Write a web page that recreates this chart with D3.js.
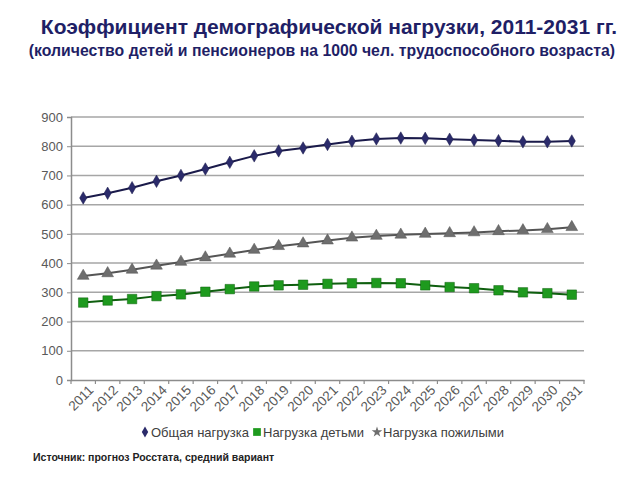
<!DOCTYPE html>
<html><head><meta charset="utf-8">
<script src="https://cdn.jsdelivr.net/npm/d3@7"></script>
<style>body{margin:0;background:#fff}svg{display:block}</style>
</head><body>
<svg id="c" width="640" height="480"></svg>
<script>
const years = ["2011","2012","2013","2014","2015","2016","2017","2018","2019","2020","2021","2022","2023","2024","2025","2026","2027","2028","2029","2030","2031"];
const total   = [623,639,658,680,700,722,745,767,784,794,806,817,825,828,827,824,821,819,815,815,818];
const children= [265,272,277,287,293,302,311,320,324,326,329,331,332,331,324,318,314,307,300,297,292];
const elderly = [356,365,377,391,404,419,432,445,458,467,477,487,493,497,500,502,505,509,512,516,523];
const yTicks = [0,100,200,300,400,500,600,700,800,900];
const seriesNames = ["Общая нагрузка","Нагрузка детьми","Нагрузка пожилыми"];
const titleText = "Коэффициент демографической нагрузки, 2011-2031 гг.";
const subtitleText = "(количество детей и пенсионеров на 1000 чел. трудоспособного возраста)";
const sourceText = "Источник: прогноз Росстата, средний вариант";

const svg = d3.select("#c");
const font = "Arial, 'Liberation Sans', sans-serif";
const L = 71, R = 584, T = 117, B = 380;
const x = d3.scaleBand().domain(years).range([L, R]);
const y = d3.scaleLinear().domain([0, 900]).range([B, T]);

svg.append("text").attr("x", 329).attr("y", 34).attr("text-anchor","middle")
  .attr("font-family", font).attr("font-weight","bold").attr("font-size", 21)
  .attr("fill","#1f1f66").text(titleText);
svg.append("text").attr("x", 322).attr("y", 56).attr("text-anchor","middle")
  .attr("font-family", font).attr("font-weight","bold").attr("font-size", 15.8)
  .attr("fill","#1f1f66").text(subtitleText);

// grid
svg.append("g").selectAll("line").data(yTicks.filter(d=>d>0)).join("line")
  .attr("x1", L).attr("x2", R).attr("y1", d=>y(d)).attr("y2", d=>y(d))
  .attr("stroke","#a6a6a6").attr("stroke-width",1.5);

// y axis
const ya = svg.append("g").attr("transform",`translate(${L},0)`)
  .call(d3.axisLeft(y).tickValues(yTicks).tickSize(4).tickPadding(4));
ya.select(".domain").attr("stroke","#8c8c8c").attr("stroke-width",1.5);
ya.selectAll(".tick line").attr("stroke","#8c8c8c");
ya.selectAll("text").attr("font-family", font).attr("font-size", 13).attr("fill","#595959");

// x axis
const xa = svg.append("g").attr("transform",`translate(0,${B})`)
  .call(d3.axisBottom(x).tickSize(0).tickPadding(0));
xa.select(".domain").attr("stroke","#8c8c8c").attr("stroke-width",1.5);
xa.selectAll(".tick line").remove();
const bounds = years.map(d=>x(d)).concat([R]);
xa.selectAll(".bt").data(bounds).join("line").attr("class","bt")
  .attr("x1",d=>d).attr("x2",d=>d).attr("y1",0).attr("y2",4)
  .attr("stroke","#8c8c8c").attr("stroke-width",1.2);
xa.selectAll(".tick text").attr("font-family", font).attr("font-size", 13.5).attr("fill","#595959")
  .attr("text-anchor","end").attr("dy",0)
  .attr("transform", `translate(${x.bandwidth()/2-1},11) rotate(-45)`);

const cx = d => x(d) + x.bandwidth()/2;
const series = [
  {name: seriesNames[0], vals: total, line:"#1a1a4a", fill:"#2b2b6b", sym:d3.symbolDiamond, size:45},
  {name: seriesNames[1], vals: children, line:"#0f5f0f", fill:"#1e9a1e", sym:d3.symbolSquare, size:90},
  {name: seriesNames[2], vals: elderly, line:"#555555", fill:"#6e6e6e", sym:d3.symbolTriangle, size:60}
];
series.forEach(s=>{
  const data = years.map((yr,i)=>({yr, v:s.vals[i]}));
  svg.append("path").datum(data)
    .attr("d", d3.line().x(d=>cx(d.yr)).y(d=>y(d.v)))
    .attr("fill","none").attr("stroke", s.line).attr("stroke-width",2);
  svg.append("g").selectAll("path").data(data).join("path")
    .attr("d", d3.symbol().type(s.sym).size(s.size))
    .attr("transform", d=>`translate(${cx(d.yr)},${y(d.v)})`)
    .attr("fill", s.fill).attr("stroke", s.line).attr("stroke-width",0.5);
});

// legend
const legX = [145, 257, 377];
const lg = svg.append("g");
series.forEach((s,i)=>{
  const g = lg.append("g").attr("transform",`translate(${legX[i]},432)`);
  g.append("path").attr("d", d3.symbol().type(i===2?d3.symbolStar:s.sym).size(i===1?60:35))
    .attr("fill", s.fill);
  g.append("text").attr("x", 6).attr("y", 4.5).attr("font-family", font).attr("font-size", 13)
    .attr("fill","#404040").text(s.name);
});

svg.append("text").attr("x", 33).attr("y", 461).attr("font-family", font)
  .attr("font-weight","bold").attr("font-size", 10.5).attr("fill","#222").text(sourceText);
</script>
</body></html>
